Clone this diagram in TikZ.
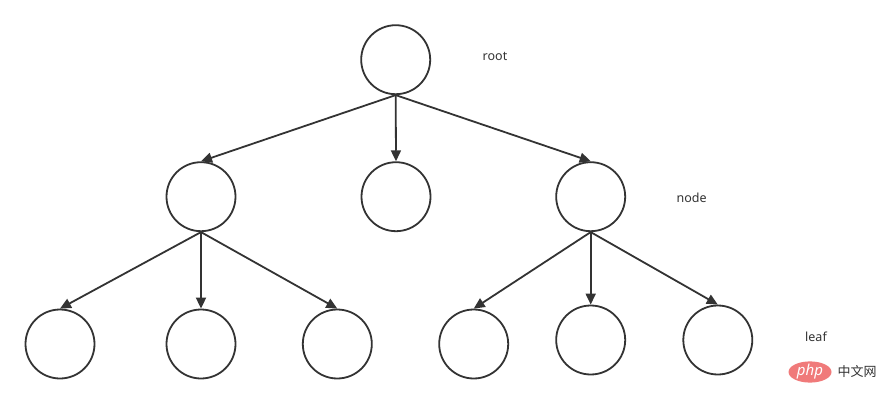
\documentclass[tikz,border=0pt]{standalone}
\usepackage{fontspec}
\setmainfont{Noto Sans}
\newfontfamily\cjk{Noto Sans CJK SC}
\usetikzlibrary{shapes.geometric,arrows.meta}
\definecolor{ink}{HTML}{333333}
\definecolor{phpred}{HTML}{F07A7A}
\tikzset{
  treenode/.style={ellipse,draw=ink,line width=1.8pt,minimum width=69pt,minimum height=69pt,inner sep=0pt},
  edge/.style={draw=ink,line width=1.8pt,-{Triangle[length=11pt,width=10pt]}},
  lbl/.style={text=ink,font=\fontsize{12.5}{14}\selectfont,inner sep=0pt}
}
\begin{document}
\begin{tikzpicture}[x=1pt,y=-1pt]
\useasboundingbox (0,0) rectangle (889,404);
% nodes
\node[treenode] (root) at (395.7,59.7) {};
\node[treenode] (m1) at (201,196.7) {};
\node[treenode] (m2) at (396,196.7) {};
\node[treenode] (m3) at (590.7,196.7) {};
\node[treenode] (l1) at (60,344) {};
\node[treenode] (l2) at (201,344) {};
\node[treenode] (l3) at (337.3,344) {};
\node[treenode] (l4) at (473.7,344) {};
\node[treenode] (l5) at (590.7,340) {};
\node[treenode] (l6) at (717.8,340) {};
% labels
\node[lbl] (troot) at (495,56.5) {root};
\node[lbl] (tnode) at (691.7,197.5) {node};
\node[lbl] (tleaf) at (816,336.5) {leaf};
% edges
\draw[edge] (root.south) -- (m1.north);
\draw[edge] (root.south) -- (m2.north);
\draw[edge] (root.south) -- (m3.north);
\draw[edge] (m1.south) -- (l1.north);
\draw[edge] (m1.south) -- (l2.north);
\draw[edge] (m1.south) -- (l3.north);
\draw[edge] (m3.south) -- (l4.north);
\draw[edge] (m3.south) -- (l5.north);
\draw[edge] (m3.south) -- (l6.north);
% watermark
\node[ellipse,fill=phpred,minimum width=43pt,minimum height=20pt,inner sep=0pt,
      text=white,font=\fontsize{15}{16}\selectfont\itshape] (php) at (810,372) {php};
\node[text=ink,inner sep=0pt,font=\cjk\fontsize{13}{14}\selectfont] (cn) at (857,372) {中文网};
\end{tikzpicture}
\end{document}
